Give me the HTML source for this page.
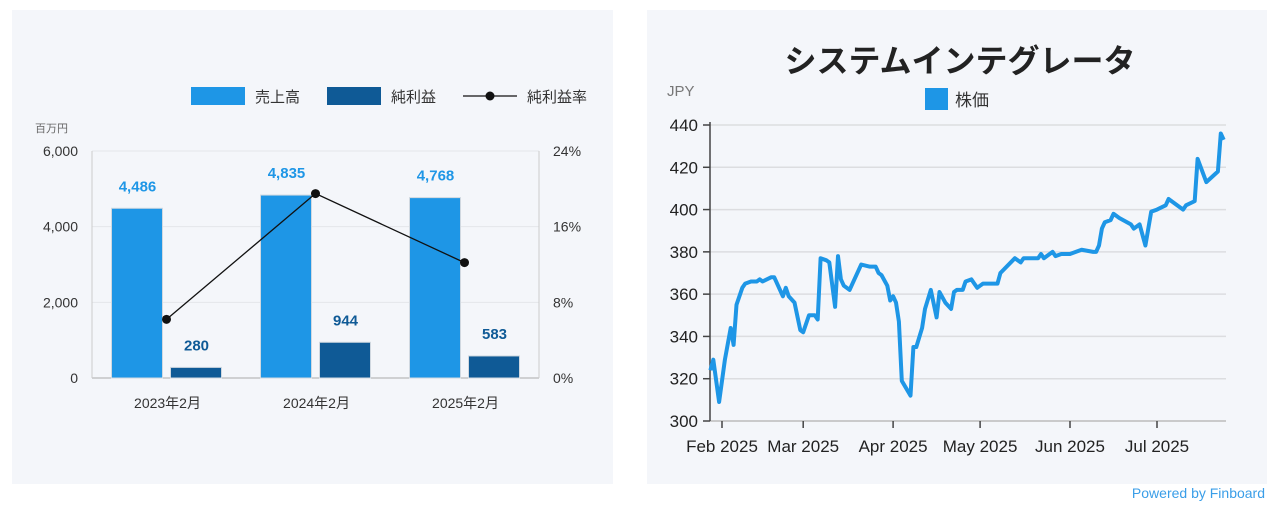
<!DOCTYPE html>
<html><head><meta charset="utf-8"><style>
body{margin:0;width:1280px;height:511px;background:#fff;font-family:"Liberation Sans","Noto Sans CJK JP",sans-serif;overflow:hidden}
svg{position:absolute;left:0;top:0}
</style></head><body>
<svg width="1280" height="511" font-family="Liberation Sans, Noto Sans CJK JP, sans-serif">
<rect x="12" y="10" width="601" height="474" fill="#f4f6fa"/>
<rect x="647" y="10" width="620" height="474" fill="#f4f6fa"/>
<g id="bar"></g>
<g id="line"></g>
<text x="1265" y="498" text-anchor="end" font-size="14" fill="#3a9ee8">Powered by Finboard</text>
</svg>
<script>
const categories=["2023年2月","2024年2月","2025年2月"];
const sales=[4486,4835,4768];
const netIncome=[280,944,583];
const marginPct=[6.2,19.5,12.2];
const leftTicks=["0","2,000","4,000","6,000"];
const rightTicks=["0%","8%","16%","24%"];
const stockDays=[-4,-3,-1,1,3,4,5,7,8,10,12,13,14,17,18,20,21,22,23,25,27,28,30,32,33,34,36,37,39,40,41,42,44,45,48,51,53,54,55,57,58,59,60,61,62,65,66,67,69,70,72,74,75,77,79,80,81,83,84,86,87,88,89,90,95,96,101,103,104,109,110,111,114,115,117,119,120,124,128,129,130,131,132,134,135,137,141,142,144,145,146,148,150,153,154,157,159,160,163,164,167,171,172,173];
const stockPrices=[324,329,309,329,344,336,355,363,365,366,366,367,366,368,368,362,359,363,359,356,343,342,350,350,348,377,376,375,354,378,367,364,362,365,374,373,373,370,369,364,357,359,356,347,319,312,335,335,344,353,362,349,361,356,353,361,362,362,366,367,365,363,364,365,365,370,377,375,377,377,379,377,380,378,379,379,379,381,380,380,383,391,394,395,398,396,393,391,393,388,383,399,400,402,405,402,400,402,404,424,413,418,436,433];
const yTicksStock=[300,320,340,360,380,400,420,440];
const monthLabels=["Feb 2025","Mar 2025","Apr 2025","May 2025","Jun 2025","Jul 2025"];
const monthDays=[0,28,59,89,120,150];

const NS="http://www.w3.org/2000/svg";
function mk(p,t,a,txt){const e=document.createElementNS(NS,t);for(const k in a)e.setAttribute(k,a[k]);if(txt!==undefined)e.textContent=txt;p.appendChild(e);return e;}
// bar chart
const B=document.getElementById('bar');
const px0=92,px1=539,py0=378,py1=151;
const yL=v=>py0-(v/6000)*(py0-py1);
const yR=v=>py0-(v/24)*(py0-py1);
const step=(px1-px0)/categories.length;
const cx=i=>px0+step*(i+0.5);
leftTicks.forEach((t,i)=>{const y=py0-i*(py0-py1)/3;
 let g=mk(B,'line',{x1:px0,x2:px1,y1:y,y2:y,stroke:i?'#e4e6ea':'#aaa','stroke-width':1});
 
 let a=mk(B,'text',{x:78,y:y+5,'text-anchor':'end','font-size':14,fill:'#333'},t);
 
 let b=mk(B,'text',{x:553,y:y+5,'font-size':14,fill:'#333'},rightTicks[i]);
 });
let ax=mk(B,'line',{x1:px0,x2:px0,y1:py1,y2:py0,stroke:'#ccc'});
let ax2=mk(B,'line',{x1:px1,x2:px1,y1:py1,y2:py0,stroke:'#ccc'});
let un=mk(B,'text',{x:35,y:132,'font-size':11,fill:'#666'},'百万円');
categories.forEach((c,i)=>{const x=cx(i);
 let r1=mk(B,'rect',{x:x-55,y:yL(sales[i]),width:51,height:py0-yL(sales[i]),fill:'#1e96e6',stroke:'#d0d8e0'});
 
 let r2=mk(B,'rect',{x:x+4,y:yL(netIncome[i]),width:51,height:py0-yL(netIncome[i]),fill:'#0f5a96',stroke:'#d0d8e0'});
 
 let l1=mk(B,'text',{x:x-29,y:yL(sales[i])-17,'text-anchor':'middle','font-size':15,'font-weight':'bold',fill:'#1e96e6'},sales[i].toLocaleString('en-US'));
 
 let l2=mk(B,'text',{x:x+30,y:yL(netIncome[i])-17,'text-anchor':'middle','font-size':15,'font-weight':'bold',fill:'#0f5a96'},netIncome[i].toLocaleString('en-US'));
 
 let cl=mk(B,'text',{x:x+1,y:408,'text-anchor':'middle','font-size':14,fill:'#333'},c);
 });
let pl=mk(B,'polyline',{points:marginPct.map((v,i)=>cx(i)+','+yR(v)).join(' '),fill:'none',stroke:'#111','stroke-width':1.3});

marginPct.forEach((v,i)=>{let d=mk(B,'circle',{cx:cx(i),cy:yR(v),r:4.5,fill:'#111'});
 });
// legend
let lg1=mk(B,'rect',{x:191,y:87,width:54,height:18,fill:'#1e96e6'});
let lt1=mk(B,'text',{x:255,y:102,'font-size':15,fill:'#333'},'売上高');
let lg2=mk(B,'rect',{x:327,y:87,width:54,height:18,fill:'#0f5a96'});
let lt2=mk(B,'text',{x:391,y:102,'font-size':15,fill:'#333'},'純利益');
let lg3=mk(B,'line',{x1:463,x2:517,y1:96,y2:96,stroke:'#111','stroke-width':1.3});
let lg3c=mk(B,'circle',{cx:490,cy:96,r:4.5,fill:'#111'});
let lt3=mk(B,'text',{x:527,y:102,'font-size':15,fill:'#333'},'純利益率');

// stock chart
const L=document.getElementById('line');
const sx0=710,sx1=1226,sy0=421,sy1=125;
const sy=v=>sy0-(v-300)/140*(sy0-sy1);
const sxd=d=>722+d*2.9;
let tt=mk(L,'text',{x:960,y:72,'text-anchor':'middle','font-size':32,'font-weight':'bold',fill:'#222'},'システムインテグレータ');

let jp=mk(L,'text',{x:667,y:96,'font-size':15,fill:'#777'},'JPY');
let ls=mk(L,'rect',{x:925,y:88,width:23,height:22,fill:'#1e96e6'});
let lst=mk(L,'text',{x:955,y:106,'font-size':17,fill:'#333'},'株価');
yTicksStock.forEach(v=>{const y=sy(v);
 let g=mk(L,'line',{x1:sx0,x2:sx1,y1:y,y2:y,stroke:v===300?'#bbb':'#dcdde0','stroke-width':1.5});
 
 let tk=mk(L,'line',{x1:703,x2:sx0,y1:y,y2:y,stroke:'#444','stroke-width':1.5});
 
 let t=mk(L,'text',{x:698,y:y+6,'text-anchor':'end','font-size':17,fill:'#222'},String(v));
 });
let yax=mk(L,'line',{x1:sx0,x2:sx0,y1:sy1-3,y2:sy0,stroke:'#444','stroke-width':1.5});
monthLabels.forEach((m,i)=>{const x=sxd(monthDays[i]);
 let tk=mk(L,'line',{x1:x,x2:x,y1:sy0,y2:sy0+7,stroke:'#444','stroke-width':1.5});
 
 let t=mk(L,'text',{x:x,y:452,'text-anchor':'middle','font-size':17,fill:'#222'},m);
 });
let sp=mk(L,'polyline',{points:stockDays.map((d,i)=>sxd(d)+','+sy(stockPrices[i])).join(' '),fill:'none',stroke:'#1e96e6','stroke-width':4,'stroke-linejoin':'round'});

</script>
</body></html>
